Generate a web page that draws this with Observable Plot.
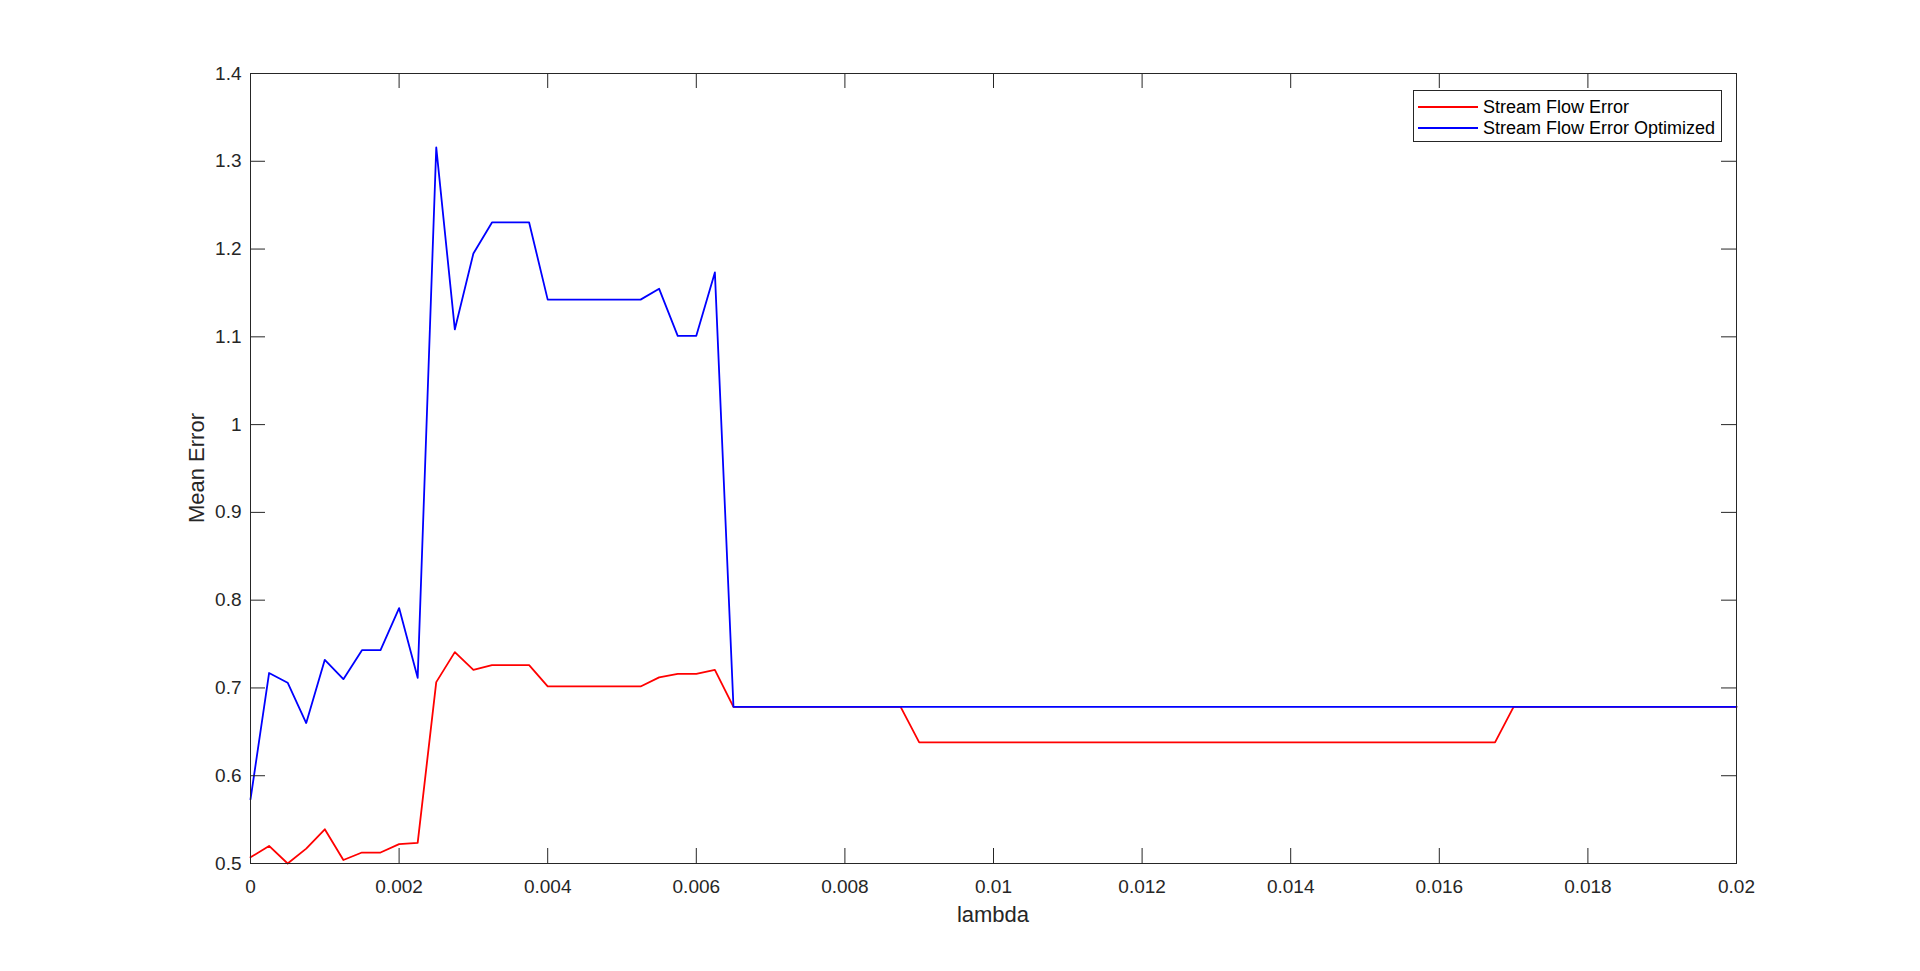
<!DOCTYPE html>
<html>
<head>
<meta charset="utf-8">
<script src="https://cdn.jsdelivr.net/npm/d3@7"></script>
<script src="https://cdn.jsdelivr.net/npm/@observablehq/plot@0.6"></script>
<style>
  html, body { margin: 0; padding: 0; background: #fff; }
  #wrap { position: relative; width: 1920px; height: 971px; font-family: "Liberation Sans", Arial, Helvetica, sans-serif; color: #262626; overflow: hidden; }
  #wrap svg { position: absolute; left: 0; top: 0; }
  .lab { position: absolute; white-space: nowrap; font-size: 22px; line-height: 22px; color: #262626; }
  #legend { position: absolute; left: 1413px; top: 90px; width: 307px; height: 50px; border: 1px solid #262626; background: #fff; font-size: 18px; }
  .row { position: absolute; left: 0; height: 22px; line-height: 22px; white-space: nowrap; }
  .row .swatch { position: absolute; left: 4px; top: 10px; width: 60px; height: 2px; }
  .row .txt { position: absolute; left: 69px; top: 0; color: #000; }
</style>
</head>
<body>
<div id="wrap"></div>
<script>
// ---- data ----
const lambda = [
  0, 0.00025, 0.0005, 0.00075, 0.001, 0.00125, 0.0015, 0.00175, 0.002, 0.00225,
  0.0025, 0.00275, 0.003, 0.00325, 0.0035, 0.00375, 0.004, 0.00425, 0.0045, 0.00475,
  0.005, 0.00525, 0.0055, 0.00575, 0.006, 0.00625, 0.0065, 0.00675, 0.007, 0.00725,
  0.0075, 0.00775, 0.008, 0.00825, 0.0085, 0.00875, 0.009, 0.00925, 0.0095, 0.00975,
  0.01, 0.01025, 0.0105, 0.01075, 0.011, 0.01125, 0.0115, 0.01175, 0.012, 0.01225,
  0.0125, 0.01275, 0.013, 0.01325, 0.0135, 0.01375, 0.014, 0.01425, 0.0145, 0.01475,
  0.015, 0.01525, 0.0155, 0.01575, 0.016, 0.01625, 0.0165, 0.01675, 0.017, 0.01725,
  0.0175, 0.01775, 0.018, 0.01825, 0.0185, 0.01875, 0.019, 0.01925, 0.0195, 0.01975,
  0.02
];
const streamFlowError = [
  0.507, 0.520, 0.500, 0.517, 0.539, 0.504, 0.5125, 0.5125, 0.522, 0.5235,
  0.7066, 0.7408, 0.7206, 0.7259, 0.7259, 0.7259, 0.7017, 0.7017, 0.7017, 0.7017,
  0.7017, 0.7017, 0.712, 0.716, 0.716, 0.7206, 0.6785, 0.6785, 0.6785, 0.6785,
  0.6785, 0.6785, 0.6785, 0.6785, 0.6785, 0.6785, 0.638, 0.638, 0.638, 0.638,
  0.638, 0.638, 0.638, 0.638, 0.638, 0.638, 0.638, 0.638, 0.638, 0.638,
  0.638, 0.638, 0.638, 0.638, 0.638, 0.638, 0.638, 0.638, 0.638, 0.638,
  0.638, 0.638, 0.638, 0.638, 0.638, 0.638, 0.638, 0.638, 0.6785, 0.6785,
  0.6785, 0.6785, 0.6785, 0.6785, 0.6785, 0.6785, 0.6785, 0.6785, 0.6785, 0.6785,
  0.6785
];
const streamFlowErrorOptimized = [
  0.573, 0.717, 0.706, 0.660, 0.732, 0.710, 0.743, 0.743, 0.791, 0.7115,
  1.3158, 1.1084, 1.195, 1.2303, 1.2303, 1.2303, 1.1424, 1.1424, 1.1424, 1.1424,
  1.1424, 1.1424, 1.1547, 1.1011, 1.1011, 1.1734, 0.6785, 0.6785, 0.6785, 0.6785,
  0.6785, 0.6785, 0.6785, 0.6785, 0.6785, 0.6785, 0.6785, 0.6785, 0.6785, 0.6785,
  0.6785, 0.6785, 0.6785, 0.6785, 0.6785, 0.6785, 0.6785, 0.6785, 0.6785, 0.6785,
  0.6785, 0.6785, 0.6785, 0.6785, 0.6785, 0.6785, 0.6785, 0.6785, 0.6785, 0.6785,
  0.6785, 0.6785, 0.6785, 0.6785, 0.6785, 0.6785, 0.6785, 0.6785, 0.6785, 0.6785,
  0.6785, 0.6785, 0.6785, 0.6785, 0.6785, 0.6785, 0.6785, 0.6785, 0.6785, 0.6785,
  0.6785
];
const seriesNames = ["Stream Flow Error", "Stream Flow Error Optimized"];
const seriesColors = ["#ff0000", "#0000ff"];
const xTicks = [0, 0.002, 0.004, 0.006, 0.008, 0.01, 0.012, 0.014, 0.016, 0.018, 0.02];
const xTickLabels = ["0", "0.002", "0.004", "0.006", "0.008", "0.01", "0.012", "0.014", "0.016", "0.018", "0.02"];
const yTicks = [0.5, 0.6, 0.7, 0.8, 0.9, 1, 1.1, 1.2, 1.3, 1.4];
const yTickLabels = ["0.5", "0.6", "0.7", "0.8", "0.9", "1", "1.1", "1.2", "1.3", "1.4"];
const xLabel = "lambda";
const yLabel = "Mean Error";

// ---- layout ----
const W = 1920, H = 971;
const mL = 250, mR = 184, mT = 73, mB = 108;
const plotW = W - mL - mR, plotH = H - mT - mB;
const tickLen = 15;
const axisColor = "#262626";

const redData = lambda.map((x, i) => ({x, y: streamFlowError[i]}));
const blueData = lambda.map((x, i) => ({x, y: streamFlowErrorOptimized[i]}));

const chart = Plot.plot({
  width: W, height: H,
  marginLeft: mL, marginRight: mR, marginTop: mT, marginBottom: mB,
  style: {fontFamily: '"Liberation Sans", Arial, Helvetica, sans-serif', fontSize: "19px", color: axisColor, background: "#fff", overflow: "visible"},
  x: {domain: [0, 0.02]},
  y: {domain: [0.5, 1.4]},
  marks: [
    Plot.line(redData, {x: "x", y: "y", stroke: seriesColors[0], strokeWidth: 1.8}),
    Plot.line(blueData, {x: "x", y: "y", stroke: seriesColors[1], strokeWidth: 1.8}),
    Plot.tickX(xTicks, {x: d => d, insetTop: plotH - tickLen, stroke: axisColor, strokeWidth: 1}),
    Plot.tickX(xTicks, {x: d => d, insetBottom: plotH - tickLen, stroke: axisColor, strokeWidth: 1}),
    Plot.tickY(yTicks, {y: d => d, insetRight: plotW - tickLen, stroke: axisColor, strokeWidth: 1}),
    Plot.tickY(yTicks, {y: d => d, insetLeft: plotW - tickLen, stroke: axisColor, strokeWidth: 1}),
    Plot.axisX(xTicks, {tickSize: 0, tickPadding: 16, tickFormat: d => xTickLabels[xTicks.indexOf(d)], label: null, fontSize: 19}),
    Plot.axisY(yTicks, {tickSize: 0, tickPadding: 9, tickFormat: d => yTickLabels[yTicks.indexOf(d)], label: null, fontSize: 19}),
    Plot.frame({stroke: axisColor, strokeWidth: 1})
  ]
});

const wrap = document.getElementById("wrap");
wrap.appendChild(chart);

// axis titles
const xl = document.createElement("div");
xl.className = "lab";
xl.textContent = xLabel;
xl.style.left = (mL + plotW / 2) + "px";
xl.style.top = "904px";
xl.style.transform = "translateX(-50%)";
wrap.appendChild(xl);

const yl = document.createElement("div");
yl.className = "lab";
yl.textContent = yLabel;
yl.style.left = "197px";
yl.style.top = (mT + plotH / 2) + "px";
yl.style.transform = "translate(-50%, -50%) rotate(-90deg)";
wrap.appendChild(yl);

// legend
const legend = document.createElement("div");
legend.id = "legend";
const rowTops = [4.7, 26.3];
seriesNames.forEach((name, i) => {
  const row = document.createElement("div");
  row.className = "row";
  row.style.top = rowTops[i] + "px";
  const sw = document.createElement("div");
  sw.className = "swatch";
  sw.style.background = seriesColors[i];
  const t = document.createElement("div");
  t.className = "txt";
  t.textContent = name;
  row.appendChild(sw);
  row.appendChild(t);
  legend.appendChild(row);
});
wrap.appendChild(legend);
</script>
</body>
</html>
